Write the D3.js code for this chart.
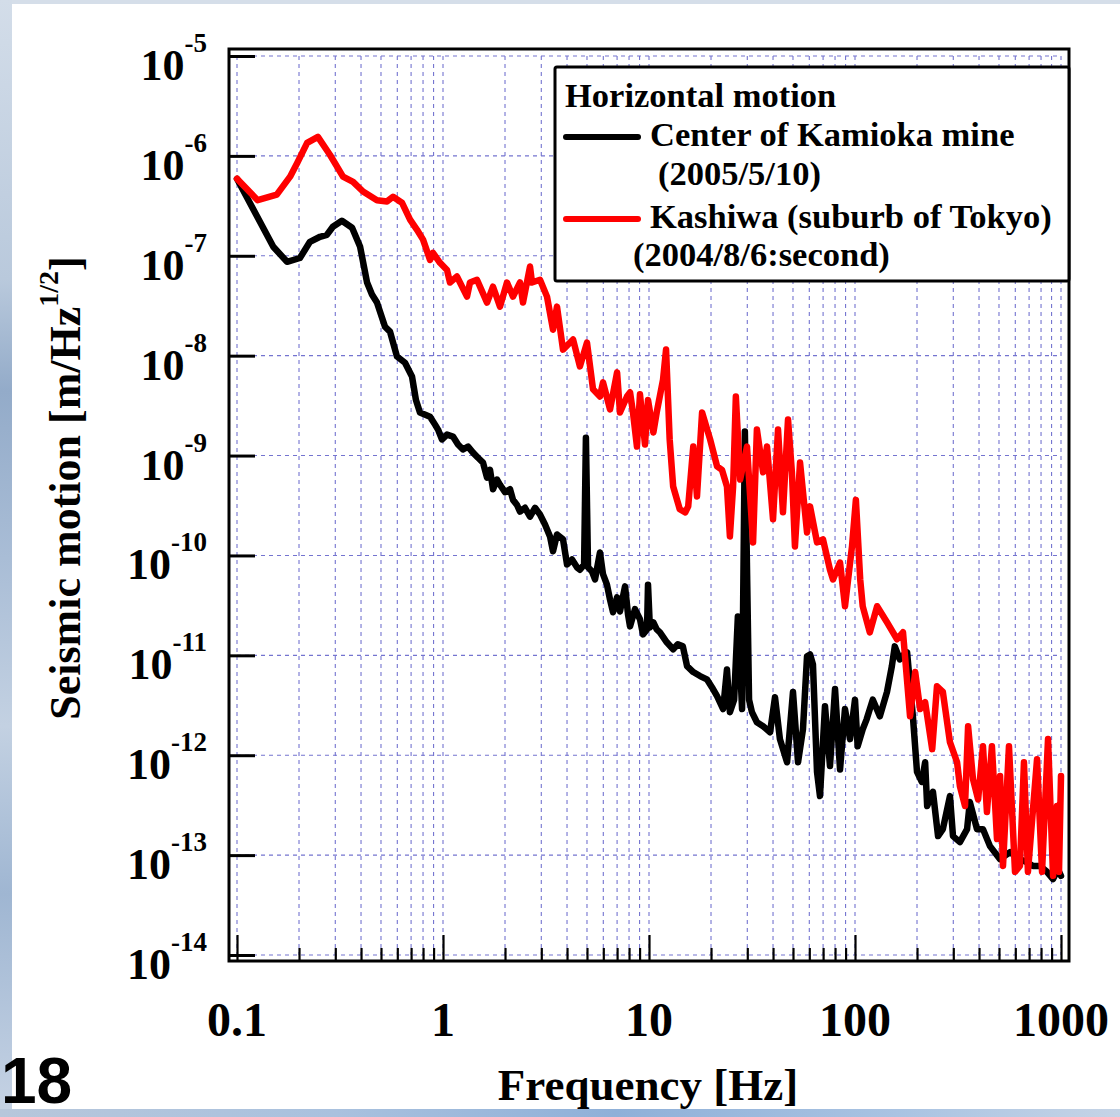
<!DOCTYPE html>
<html><head><meta charset="utf-8">
<script src="https://cdn.jsdelivr.net/npm/d3@7"></script>
<style>body{margin:0;background:#fff;} svg{display:block;}</style>
</head><body>
<svg id="chart" width="1120" height="1117"></svg>
<script>
// ---------- data ----------
const xTickValues = [0.1, 1, 10, 100, 1000];
const xTickLabels = ["0.1", "1", "10", "100", "1000"];
const yTickExponents = [-5, -6, -7, -8, -9, -10, -11, -12, -13, -14];
const xTitle = "Frequency [Hz]";
const yTitleMain = "Seismic motion [m/Hz";
const yTitleSup = "1/2";
const legendTitle = "Horizontal motion";
const seriesLabels = [["Center of Kamioka mine", "(2005/5/10)"], ["Kashiwa (suburb of Tokyo)", "(2004/8/6:second)"]];
const seriesColors = ["#000000", "#ff0000"];
const slideNumber = "18";

// [frequency Hz, amplitude m/Hz^1/2]
const kamioka = [[0.1,5.9e-7],[0.150,1.23e-7],[0.175,8.7e-8],[0.202,9.5e-8],[0.226,1.38e-7],[0.253,1.55e-7],[0.273,1.62e-7],[0.292,1.95e-7],[0.323,2.24e-7],[0.362,1.91e-7],[0.396,1.23e-7],[0.428,5.4e-8],[0.452,4.1e-8],[0.478,3.4e-8],[0.523,1.95e-8],[0.553,1.74e-8],[0.598,9.8e-9],[0.654,8.5e-9],[0.707,6.2e-9],[0.739,3.6e-9],[0.773,2.7e-9],[0.865,2.45e-9],[0.915,2.04e-9],[0.946,1.82e-9],[0.989,1.45e-9],[1.046,1.62e-9],[1.118,1.55e-9],[1.183,1.29e-9],[1.25,1.15e-9],[1.323,1.23e-9],[1.398,1.07e-9],[1.479,9.5e-10],[1.564,8.5e-10],[1.636,6.0e-10],[1.691,7.2e-10],[1.749,4.6e-10],[1.829,5.75e-10],[1.891,5.1e-10],[2.0,4.3e-10],[2.115,4.6e-10],[2.187,3.6e-10],[2.287,3.2e-10],[2.365,2.75e-10],[2.50,3.0e-10],[2.645,2.45e-10],[2.797,3.0e-10],[2.957,2.57e-10],[3.127,2.04e-10],[3.307,1.55e-10],[3.42,1.1e-10],[3.576,1.62e-10],[3.824,1.45e-10],[4.0,8.1e-11],[4.23,9.1e-11],[4.47,7.6e-11],[4.62,7.2e-11],[4.84,8.1e-11],[4.94,1.51e-9],[5.06,7.6e-11],[5.29,6.9e-11],[5.47,5.75e-11],[5.78,1.07e-10],[5.98,6.5e-11],[6.25,5.1e-11],[6.47,3.6e-11],[6.69,2.7e-11],[7.0,3.8e-11],[7.23,2.75e-11],[7.65,4.9e-11],[7.91,2.57e-11],[8.09,1.95e-11],[8.55,2.9e-11],[9.04,2.3e-11],[9.35,1.62e-11],[9.78,1.82e-11],[9.89,5.1e-11],[10.1,1.9e-11],[10.5,2.14e-11],[10.9,1.82e-11],[11.3,1.7e-11],[12.2,1.35e-11],[13.1,1.15e-11],[13.8,1.29e-11],[14.6,1.23e-11],[15.3,7.8e-12],[16.4,6.8e-12],[17.7,6.2e-12],[19.1,5.75e-12],[20.2,4.8e-12],[21.4,3.9e-12],[22.9,2.9e-12],[23.9,7.2e-12],[24.7,2.7e-12],[25.9,3.6e-12],[27.0,2.45e-11],[28.3,2.9e-12],[29.2,1.74e-9],[30.6,3.6e-12],[31.6,2.7e-12],[33.4,2.14e-12],[35.8,1.95e-12],[38.7,1.7e-12],[40.9,3.8e-12],[43.2,1.45e-12],[46.8,8.5e-13],[50.0,4.3e-12],[52.9,8.5e-13],[55.9,1.82e-12],[58.5,9.8e-12],[60.5,1.02e-11],[62.5,8.1e-12],[65.4,6.8e-13],[67.6,3.9e-13],[71.5,3.1e-12],[75.6,7.8e-13],[80.0,4.6e-12],[84.6,7.2e-13],[89.4,2.9e-12],[94.6,1.45e-12],[100,3.6e-12],[103,1.23e-12],[109,1.82e-12],[114,2.3e-12],[122,3.6e-12],[132,2.45e-12],[143,4.3e-12],[151,7.8e-12],[156,1.23e-11],[165,9.1e-12],[173,1.02e-11],[179,1.07e-11],[191,2.45e-12],[200,6.8e-13],[211,5.4e-13],[219,8.5e-13],[224,3.1e-13],[239,4.3e-13],[253,1.55e-13],[267,1.82e-13],[289,3.9e-13],[299,1.55e-13],[323,1.35e-13],[350,1.82e-13],[361,3.4e-13],[391,1.82e-13],[418,1.82e-13],[452,1.23e-13],[506,9.1e-14],[566,1.07e-13],[632,9.1e-14],[684,8.5e-14],[731,7.8e-14],[791,7.8e-14],[855,6.8e-14],[915,5.75e-14],[967,7.2e-14],[1000,6.2e-14]];

const kashiwa = [[0.1,5.9e-7],[0.126,3.6e-7],[0.156,4.1e-7],[0.181,6.2e-7],[0.196,8.5e-7],[0.219,1.35e-6],[0.247,1.55e-6],[0.283,1.02e-6],[0.327,6.2e-7],[0.366,5.5e-7],[0.409,4.4e-7],[0.478,3.6e-7],[0.535,3.5e-7],[0.572,3.9e-7],[0.632,3.4e-7],[0.692,2.3e-7],[0.748,1.82e-7],[0.800,1.45e-7],[0.865,9.1e-8],[0.894,1.07e-7],[0.967,8.5e-8],[1.046,7.2e-8],[1.081,5.4e-8],[1.169,6.2e-8],[1.308,3.9e-8],[1.352,5.4e-8],[1.462,5.75e-8],[1.636,3.4e-8],[1.749,4.9e-8],[1.891,3.1e-8],[2.045,5.4e-8],[2.187,3.9e-8],[2.365,5.4e-8],[2.445,3.4e-8],[2.645,7.8e-8],[2.704,5.4e-8],[2.957,5.75e-8],[3.198,3.9e-8],[3.42,1.82e-8],[3.576,3.1e-8],[3.824,1.15e-8],[4.28,1.45e-8],[4.62,7.8e-9],[5.0,1.35e-8],[5.35,4.6e-9],[5.78,3.9e-9],[5.98,5.4e-9],[6.47,2.9e-9],[7.0,6.8e-9],[7.23,2.7e-9],[7.82,3.9e-9],[8.09,4.3e-9],[8.36,2.7e-9],[8.74,1.23e-9],[9.04,4.1e-9],[9.56,1.29e-9],[9.89,3.6e-9],[10.5,1.7e-9],[10.9,2.7e-9],[11.7,5.75e-9],[12.1,1.15e-8],[12.6,1.45e-9],[13.1,4.9e-10],[14.1,2.9e-10],[15.0,2.7e-10],[15.5,3.1e-10],[16.4,1.23e-9],[17.1,3.9e-10],[18.1,2.7e-9],[19.8,1.45e-9],[21.4,7.8e-10],[22.6,7.2e-10],[23.9,4.9e-10],[24.7,1.55e-10],[25.6,4.9e-10],[26.4,3.9e-9],[27.7,5.75e-10],[29.9,1.23e-9],[32.0,1.35e-10],[33.4,1.82e-9],[35.8,6.8e-10],[37.4,1.23e-9],[40.0,2.3e-10],[42.3,1.82e-9],[44.7,2.7e-10],[47.3,2.3e-9],[49.4,6.8e-10],[51.1,1.23e-10],[54.1,8.5e-10],[58.5,1.7e-10],[60.5,3.1e-10],[65.4,1.35e-10],[69.9,1.45e-10],[75.6,7.2e-11],[78.2,5.75e-11],[84.6,8.5e-11],[89.4,3.1e-11],[96.7,1.23e-10],[101,3.6e-10],[106,5.75e-11],[109,3.1e-11],[118,1.7e-11],[128,3.1e-11],[143,2.14e-11],[160,1.45e-11],[171,1.7e-11],[185,2.45e-12],[196,6.8e-12],[207,2.9e-12],[219,3.4e-12],[237,1.15e-12],[250,4.9e-12],[267,4.3e-12],[289,1.35e-12],[313,8.5e-13],[323,4.9e-13],[342,3.1e-13],[354,1.95e-12],[374,5.75e-13],[396,3.6e-13],[418,1.23e-12],[437,2.7e-13],[462,1.23e-12],[489,1.45e-13],[506,6.2e-13],[523,7.8e-14],[559,1.23e-12],[598,6.8e-14],[632,7.8e-14],[661,8.5e-13],[691,6.8e-14],[765,9.1e-13],[809,6.8e-14],[865,1.45e-12],[915,6.2e-14],[956,3.1e-13],[978,6.8e-14],[1000,6.2e-13]];

// ---------- drawing ----------
const W = 1120, H = 1117;
const serif = "'Liberation Serif','Times New Roman',Times,serif";
const svg = d3.select("#chart");
const defs = svg.append("defs");

// slide background
const gl = defs.append("linearGradient").attr("id", "leftGrad").attr("x1", 0).attr("y1", 0).attr("x2", 0).attr("y2", 1);
[[0, "#d3dde9"], [0.25, "#b9c9dc"], [0.35, "#93abc9"], [0.5, "#a9bdd6"], [0.65, "#c3d1e2"], [0.8, "#9fb6d2"], [1, "#c6d3e4"]].forEach(s => gl.append("stop").attr("offset", s[0]).attr("stop-color", s[1]));
const gb = defs.append("linearGradient").attr("id", "botGrad").attr("x1", 0).attr("y1", 0).attr("x2", 1).attr("y2", 0);
[[0, "#b7c7db"], [0.3, "#a9c1de"], [0.55, "#8fb0d8"], [0.8, "#a9c3e2"], [1, "#c5d4e6"]].forEach(s => gb.append("stop").attr("offset", s[0]).attr("stop-color", s[1]));

svg.append("rect").attr("width", W).attr("height", H).attr("fill", "#d5dee9");
svg.append("rect").attr("x", 0).attr("y", 0).attr("width", 12).attr("height", H).attr("fill", "url(#leftGrad)");
svg.append("rect").attr("x", 0).attr("y", 1109).attr("width", W).attr("height", H - 1109).attr("fill", "url(#botGrad)");
svg.append("rect").attr("x", 12).attr("y", 4).attr("width", W - 12).attr("height", 1105).attr("fill", "#ffffff");

const x = d3.scaleLog().domain([0.1, 1000]).range([237, 1061]);
const y = d3.scaleLog().domain([1e-14, 1e-5]).range([955, 56]);
const frame = {x0: 229, y0: 49, x1: 1069, y1: 961};

// grid
const minorX = [];
[0.1, 1, 10, 100].forEach(d => { for (let k = 1; k <= 9; k++) minorX.push(+(d * k).toPrecision(3)); });
minorX.push(1000);
const decadesY = yTickExponents.map(e => Math.pow(10, e));
const grid = svg.append("g").attr("stroke", "#7474d0").attr("stroke-width", 1.1).attr("stroke-dasharray", "4,4");
grid.selectAll("line.v").data(minorX).join("line").attr("class", "v")
  .attr("x1", d => x(d)).attr("x2", d => x(d)).attr("y1", y(1e-5)).attr("y2", y(1e-14));
grid.selectAll("line.h").data(decadesY).join("line").attr("class", "h")
  .attr("x1", x(0.1)).attr("x2", x(1000)).attr("y1", d => y(d)).attr("y2", d => y(d));

// x ticks (inward) via d3 axes
const minorOnly = minorX.filter(v => !xTickValues.includes(v));
const axMinor = svg.append("g").attr("transform", `translate(0,${frame.y1})`)
  .call(d3.axisBottom(x).tickValues(minorOnly).tickSize(-13).tickFormat(""));
const axMajor = svg.append("g").attr("transform", `translate(0,${frame.y1})`)
  .call(d3.axisBottom(x).tickValues(xTickValues).tickSize(-26).tickFormat(""));
[axMinor, axMajor].forEach(g => { g.select(".domain").remove(); g.selectAll("line").attr("stroke", "#000").attr("stroke-width", 2.2); });

// y ticks (inward)
const axY = svg.append("g").attr("transform", `translate(${frame.x0},0)`)
  .call(d3.axisLeft(y).tickValues(decadesY).tickSize(-26).tickFormat(""));
axY.select(".domain").remove();
axY.selectAll("line").attr("stroke", "#000").attr("stroke-width", 3);

// data lines
defs.append("clipPath").attr("id", "plotClip").append("rect")
  .attr("x", frame.x0).attr("y", frame.y0).attr("width", frame.x1 - frame.x0).attr("height", frame.y1 - frame.y0);
const line = d3.line().x(d => x(d[0])).y(d => y(d[1]));
const lines = svg.append("g").attr("clip-path", "url(#plotClip)");
[kamioka, kashiwa].forEach((s, i) => {
  lines.append("path").datum(s).attr("d", line).attr("fill", "none")
    .attr("stroke", seriesColors[i]).attr("stroke-width", 6.5)
    .attr("stroke-linejoin", "round").attr("stroke-linecap", "round");
});

// frame
svg.append("rect").attr("x", frame.x0).attr("y", frame.y0)
  .attr("width", frame.x1 - frame.x0).attr("height", frame.y1 - frame.y0)
  .attr("fill", "none").attr("stroke", "#000").attr("stroke-width", 3);

// y tick labels
const yl = svg.append("g").attr("font-family", serif).attr("font-weight", "bold").attr("fill", "#000");
yTickExponents.forEach(e => {
  const t = yl.append("text").attr("x", 207).attr("y", y(Math.pow(10, e)) + 24).attr("text-anchor", "end");
  t.append("tspan").attr("font-size", 44).text("10");
  t.append("tspan").attr("font-size", 27).attr("dy", -28).text(String(e));
});

// x tick labels
const xl = svg.append("g").attr("font-family", serif).attr("font-weight", "bold").attr("font-size", 48).attr("text-anchor", "middle");
xTickValues.forEach((v, i) => xl.append("text").attr("x", x(v)).attr("y", 1036).text(xTickLabels[i]));

// axis titles
svg.append("text").attr("x", 648).attr("y", 1100).attr("text-anchor", "middle")
  .attr("font-family", serif).attr("font-weight", "bold").attr("font-size", 45).text(xTitle);
const yt = svg.append("text").attr("transform", "translate(80,488) rotate(-90)").attr("text-anchor", "middle")
  .attr("font-family", serif).attr("font-weight", "bold").attr("font-size", 44);
yt.append("tspan").text(yTitleMain);
yt.append("tspan").attr("font-size", 28).attr("dy", -22).text(yTitleSup);
yt.append("tspan").attr("dy", 22).text("]");

// legend
const lg = svg.append("g");
lg.append("rect").attr("x", 555).attr("y", 67).attr("width", 514).attr("height", 214).attr("rx", 2)
  .attr("fill", "#fff").attr("stroke", "#000").attr("stroke-width", 3);
const lt = lg.append("g").attr("font-family", serif).attr("font-weight", "bold").attr("font-size", 34.5).attr("fill", "#000");
lt.append("text").attr("x", 565).attr("y", 107).text(legendTitle);
lg.append("line").attr("x1", 566).attr("x2", 638).attr("y1", 137).attr("y2", 137).attr("stroke", seriesColors[0]).attr("stroke-width", 6).attr("stroke-linecap", "round");
lt.append("text").attr("x", 650).attr("y", 146).text(seriesLabels[0][0]);
lt.append("text").attr("x", 658).attr("y", 185).text(seriesLabels[0][1]);
lg.append("line").attr("x1", 566).attr("x2", 638).attr("y1", 219).attr("y2", 219).attr("stroke", seriesColors[1]).attr("stroke-width", 6).attr("stroke-linecap", "round");
lt.append("text").attr("x", 650).attr("y", 228).text(seriesLabels[1][0]);
lt.append("text").attr("x", 633).attr("y", 266).text(seriesLabels[1][1]);

// slide number (kept fully inside the page)
svg.append("text").attr("x", 1).attr("y", 1103).attr("font-family", "'Liberation Sans',Arial,sans-serif")
  .attr("font-weight", "bold").attr("font-size", 64).attr("fill", "#000").text(slideNumber);
</script>
</body></html>
